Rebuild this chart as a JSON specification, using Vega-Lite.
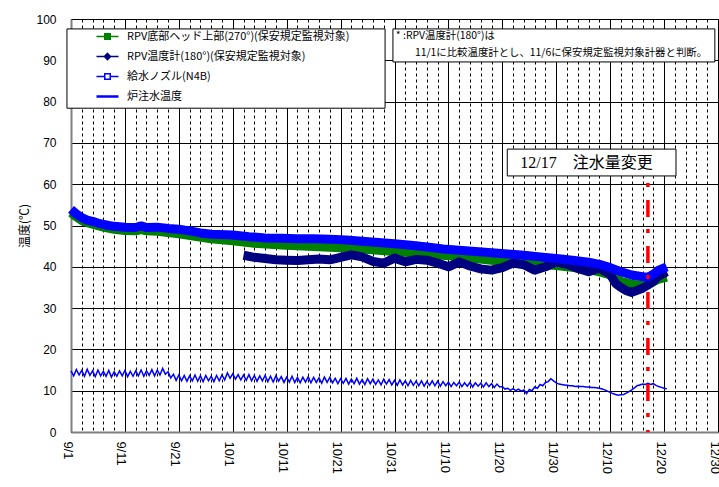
{
  "$schema": "https://vega.github.io/schema/vega-lite/v6.json",
  "autosize": {"type": "none"},
  "width": 647,
  "height": 413,
  "padding": {"left": 71, "top": 19, "right": 1, "bottom": 55},
  "background": "white",
  "config": {
    "view": {"stroke": "#666666", "strokeWidth": 1},
    "axis": {"labelFont": "Liberation Sans", "labelColor": "black", "titleFont": "Noto Sans CJK JP", "titleColor": "black"}
  },
  "datasets": {
    "green": [
      {"date": "2011-09-01T00:00", "temp": 53.1}, {"date": "2011-09-02T00:00", "temp": 52.1}, {"date": "2011-09-03T00:00", "temp": 51.2},
      {"date": "2011-09-04T00:00", "temp": 50.7}, {"date": "2011-09-05T00:00", "temp": 50.3}, {"date": "2011-09-07T00:00", "temp": 49.6},
      {"date": "2011-09-09T00:00", "temp": 49.1}, {"date": "2011-09-11T00:00", "temp": 48.8}, {"date": "2011-09-13T00:00", "temp": 48.7},
      {"date": "2011-09-14T00:00", "temp": 49.0}, {"date": "2011-09-15T00:00", "temp": 48.7}, {"date": "2011-09-17T00:00", "temp": 48.6},
      {"date": "2011-09-21T00:00", "temp": 48.0}, {"date": "2011-09-24T00:00", "temp": 47.4}, {"date": "2011-09-27T00:00", "temp": 46.8},
      {"date": "2011-10-01T00:00", "temp": 46.3}, {"date": "2011-10-05T00:00", "temp": 45.7}, {"date": "2011-10-10T00:00", "temp": 45.3},
      {"date": "2011-10-15T00:00", "temp": 45.0}, {"date": "2011-10-20T00:00", "temp": 44.7}, {"date": "2011-10-25T00:00", "temp": 44.3},
      {"date": "2011-10-31T00:00", "temp": 43.7}, {"date": "2011-11-05T00:00", "temp": 43.2}, {"date": "2011-11-10T00:00", "temp": 42.7},
      {"date": "2011-11-15T00:00", "temp": 42.0}, {"date": "2011-11-20T00:00", "temp": 41.3}, {"date": "2011-11-25T00:00", "temp": 40.8},
      {"date": "2011-11-30T00:00", "temp": 40.3}, {"date": "2011-12-05T00:00", "temp": 39.6}, {"date": "2011-12-08T00:00", "temp": 38.8},
      {"date": "2011-12-10T00:00", "temp": 38.0}, {"date": "2011-12-12T00:00", "temp": 36.5}, {"date": "2011-12-14T00:00", "temp": 35.8},
      {"date": "2011-12-16T00:00", "temp": 35.5}, {"date": "2011-12-17T00:00", "temp": 35.7}, {"date": "2011-12-18T00:00", "temp": 36.4},
      {"date": "2011-12-19T00:00", "temp": 37.0}, {"date": "2011-12-20T12:00", "temp": 37.5}
    ],
    "navy": [
      {"date": "2011-10-03T00:00", "temp": 42.8}, {"date": "2011-10-05T00:00", "temp": 42.3}, {"date": "2011-10-07T00:00", "temp": 42.0},
      {"date": "2011-10-09T00:00", "temp": 41.7}, {"date": "2011-10-11T00:00", "temp": 41.6}, {"date": "2011-10-13T00:00", "temp": 41.5},
      {"date": "2011-10-15T00:00", "temp": 41.7}, {"date": "2011-10-17T00:00", "temp": 41.9}, {"date": "2011-10-19T00:00", "temp": 41.7},
      {"date": "2011-10-21T00:00", "temp": 42.3}, {"date": "2011-10-23T00:00", "temp": 42.9}, {"date": "2011-10-25T00:00", "temp": 42.4},
      {"date": "2011-10-27T00:00", "temp": 41.3}, {"date": "2011-10-29T00:00", "temp": 40.9}, {"date": "2011-10-31T00:00", "temp": 42.1},
      {"date": "2011-11-02T00:00", "temp": 41.2}, {"date": "2011-11-04T00:00", "temp": 41.8}, {"date": "2011-11-06T00:00", "temp": 41.6},
      {"date": "2011-11-08T00:00", "temp": 40.9}, {"date": "2011-11-10T00:00", "temp": 40.0}, {"date": "2011-11-12T00:00", "temp": 41.2},
      {"date": "2011-11-14T00:00", "temp": 40.2}, {"date": "2011-11-16T00:00", "temp": 39.5}, {"date": "2011-11-18T00:00", "temp": 39.2},
      {"date": "2011-11-20T00:00", "temp": 39.8}, {"date": "2011-11-22T00:00", "temp": 40.9}, {"date": "2011-11-24T00:00", "temp": 40.5},
      {"date": "2011-11-26T00:00", "temp": 39.2}, {"date": "2011-11-28T00:00", "temp": 40.0}, {"date": "2011-11-30T00:00", "temp": 41.2},
      {"date": "2011-12-02T00:00", "temp": 40.6}, {"date": "2011-12-04T00:00", "temp": 39.6}, {"date": "2011-12-06T00:00", "temp": 38.8},
      {"date": "2011-12-08T00:00", "temp": 39.7}, {"date": "2011-12-10T00:00", "temp": 38.2}, {"date": "2011-12-11T00:00", "temp": 36.0},
      {"date": "2011-12-12T00:00", "temp": 35.0}, {"date": "2011-12-13T00:00", "temp": 34.2}, {"date": "2011-12-14T00:00", "temp": 33.8},
      {"date": "2011-12-15T00:00", "temp": 34.3}, {"date": "2011-12-16T00:00", "temp": 34.8}, {"date": "2011-12-17T00:00", "temp": 35.6},
      {"date": "2011-12-18T00:00", "temp": 36.5}, {"date": "2011-12-19T00:00", "temp": 37.8}, {"date": "2011-12-20T12:00", "temp": 38.8}
    ],
    "blue": [
      {"date": "2011-09-01T00:00", "temp": 53.9}, {"date": "2011-09-02T00:00", "temp": 52.8}, {"date": "2011-09-03T00:00", "temp": 51.9},
      {"date": "2011-09-04T00:00", "temp": 51.3}, {"date": "2011-09-05T00:00", "temp": 51.0}, {"date": "2011-09-06T00:00", "temp": 50.6},
      {"date": "2011-09-07T00:00", "temp": 50.3}, {"date": "2011-09-08T00:00", "temp": 50.0}, {"date": "2011-09-09T00:00", "temp": 49.8},
      {"date": "2011-09-11T00:00", "temp": 49.6}, {"date": "2011-09-13T00:00", "temp": 49.5}, {"date": "2011-09-14T00:00", "temp": 49.9},
      {"date": "2011-09-15T00:00", "temp": 49.5}, {"date": "2011-09-17T00:00", "temp": 49.6}, {"date": "2011-09-19T00:00", "temp": 49.3},
      {"date": "2011-09-21T00:00", "temp": 49.1}, {"date": "2011-09-23T00:00", "temp": 48.7}, {"date": "2011-09-25T00:00", "temp": 48.2},
      {"date": "2011-09-27T00:00", "temp": 47.9}, {"date": "2011-10-01T00:00", "temp": 47.7}, {"date": "2011-10-04T00:00", "temp": 47.3},
      {"date": "2011-10-07T00:00", "temp": 47.0}, {"date": "2011-10-10T00:00", "temp": 46.9}, {"date": "2011-10-13T00:00", "temp": 46.8},
      {"date": "2011-10-16T00:00", "temp": 46.8}, {"date": "2011-10-19T00:00", "temp": 46.7}, {"date": "2011-10-22T00:00", "temp": 46.5},
      {"date": "2011-10-25T00:00", "temp": 46.2}, {"date": "2011-10-28T00:00", "temp": 45.9}, {"date": "2011-10-31T00:00", "temp": 45.6},
      {"date": "2011-11-03T00:00", "temp": 45.2}, {"date": "2011-11-06T00:00", "temp": 44.8}, {"date": "2011-11-09T00:00", "temp": 44.3},
      {"date": "2011-11-12T00:00", "temp": 44.0}, {"date": "2011-11-15T00:00", "temp": 43.7}, {"date": "2011-11-18T00:00", "temp": 43.4},
      {"date": "2011-11-21T00:00", "temp": 43.1}, {"date": "2011-11-24T00:00", "temp": 42.8}, {"date": "2011-11-27T00:00", "temp": 42.4},
      {"date": "2011-11-30T00:00", "temp": 42.0}, {"date": "2011-12-03T00:00", "temp": 41.6}, {"date": "2011-12-06T00:00", "temp": 41.1},
      {"date": "2011-12-08T00:00", "temp": 40.6}, {"date": "2011-12-10T00:00", "temp": 39.8}, {"date": "2011-12-12T00:00", "temp": 38.8},
      {"date": "2011-12-14T00:00", "temp": 38.0}, {"date": "2011-12-16T00:00", "temp": 37.6}, {"date": "2011-12-17T00:00", "temp": 37.5},
      {"date": "2011-12-18T00:00", "temp": 38.2}, {"date": "2011-12-19T00:00", "temp": 39.2}, {"date": "2011-12-20T00:00", "temp": 39.7},
      {"date": "2011-12-20T12:00", "temp": 40.0}
    ],
    "water": [
      {"date": "2011-09-01T00:00", "temp": 14.8}, {"date": "2011-09-01T12:00", "temp": 13.6}, {"date": "2011-09-02T00:00", "temp": 15.1}, {"date": "2011-09-02T12:00", "temp": 13.8},
      {"date": "2011-09-03T00:00", "temp": 14.9}, {"date": "2011-09-03T12:00", "temp": 13.5}, {"date": "2011-09-04T00:00", "temp": 15.2}, {"date": "2011-09-04T12:00", "temp": 13.7},
      {"date": "2011-09-05T00:00", "temp": 14.8}, {"date": "2011-09-05T12:00", "temp": 13.4}, {"date": "2011-09-06T00:00", "temp": 15.0}, {"date": "2011-09-06T12:00", "temp": 13.6},
      {"date": "2011-09-07T00:00", "temp": 14.7}, {"date": "2011-09-07T12:00", "temp": 13.5}, {"date": "2011-09-08T00:00", "temp": 14.9}, {"date": "2011-09-08T12:00", "temp": 13.3},
      {"date": "2011-09-09T00:00", "temp": 14.6}, {"date": "2011-09-09T12:00", "temp": 13.5}, {"date": "2011-09-10T00:00", "temp": 14.8}, {"date": "2011-09-10T12:00", "temp": 13.6},
      {"date": "2011-09-11T00:00", "temp": 14.9}, {"date": "2011-09-11T12:00", "temp": 13.4}, {"date": "2011-09-12T00:00", "temp": 14.7}, {"date": "2011-09-12T12:00", "temp": 13.5},
      {"date": "2011-09-13T00:00", "temp": 14.8}, {"date": "2011-09-13T12:00", "temp": 13.6}, {"date": "2011-09-14T00:00", "temp": 15.0}, {"date": "2011-09-14T12:00", "temp": 13.5},
      {"date": "2011-09-15T00:00", "temp": 14.8}, {"date": "2011-09-15T12:00", "temp": 13.7}, {"date": "2011-09-16T00:00", "temp": 15.1}, {"date": "2011-09-16T12:00", "temp": 13.6},
      {"date": "2011-09-17T00:00", "temp": 15.0}, {"date": "2011-09-17T12:00", "temp": 13.8}, {"date": "2011-09-18T00:00", "temp": 15.4}, {"date": "2011-09-18T12:00", "temp": 14.0},
      {"date": "2011-09-19T00:00", "temp": 14.6}, {"date": "2011-09-19T12:00", "temp": 13.1}, {"date": "2011-09-20T00:00", "temp": 14.0}, {"date": "2011-09-20T12:00", "temp": 12.5},
      {"date": "2011-09-21T00:00", "temp": 13.8}, {"date": "2011-09-21T12:00", "temp": 12.4}, {"date": "2011-09-22T00:00", "temp": 13.7}, {"date": "2011-09-22T12:00", "temp": 12.3},
      {"date": "2011-09-23T00:00", "temp": 13.6}, {"date": "2011-09-23T12:00", "temp": 12.4}, {"date": "2011-09-24T00:00", "temp": 13.8}, {"date": "2011-09-24T12:00", "temp": 12.3},
      {"date": "2011-09-25T00:00", "temp": 13.6}, {"date": "2011-09-25T12:00", "temp": 12.2}, {"date": "2011-09-26T00:00", "temp": 13.7}, {"date": "2011-09-26T12:00", "temp": 12.4},
      {"date": "2011-09-27T00:00", "temp": 13.5}, {"date": "2011-09-27T12:00", "temp": 12.2}, {"date": "2011-09-28T00:00", "temp": 13.7}, {"date": "2011-09-28T12:00", "temp": 12.4},
      {"date": "2011-09-29T00:00", "temp": 13.8}, {"date": "2011-09-29T12:00", "temp": 12.6}, {"date": "2011-09-30T00:00", "temp": 14.3}, {"date": "2011-09-30T12:00", "temp": 13.0},
      {"date": "2011-10-01T00:00", "temp": 14.1}, {"date": "2011-10-01T12:00", "temp": 12.8}, {"date": "2011-10-02T00:00", "temp": 13.9}, {"date": "2011-10-02T12:00", "temp": 12.6},
      {"date": "2011-10-03T00:00", "temp": 13.8}, {"date": "2011-10-03T12:00", "temp": 12.5}, {"date": "2011-10-04T00:00", "temp": 13.9}, {"date": "2011-10-04T12:00", "temp": 12.4},
      {"date": "2011-10-05T00:00", "temp": 13.7}, {"date": "2011-10-05T12:00", "temp": 12.3}, {"date": "2011-10-06T00:00", "temp": 13.6}, {"date": "2011-10-06T12:00", "temp": 12.4},
      {"date": "2011-10-07T00:00", "temp": 13.7}, {"date": "2011-10-07T12:00", "temp": 12.2}, {"date": "2011-10-08T00:00", "temp": 13.5}, {"date": "2011-10-08T12:00", "temp": 12.1},
      {"date": "2011-10-09T00:00", "temp": 13.6}, {"date": "2011-10-09T12:00", "temp": 12.3}, {"date": "2011-10-10T00:00", "temp": 13.4}, {"date": "2011-10-10T12:00", "temp": 12.0},
      {"date": "2011-10-11T00:00", "temp": 13.3}, {"date": "2011-10-11T12:00", "temp": 12.1}, {"date": "2011-10-12T00:00", "temp": 13.5}, {"date": "2011-10-12T12:00", "temp": 12.0},
      {"date": "2011-10-13T00:00", "temp": 13.2}, {"date": "2011-10-13T12:00", "temp": 11.9}, {"date": "2011-10-14T00:00", "temp": 13.3}, {"date": "2011-10-14T12:00", "temp": 12.1},
      {"date": "2011-10-15T00:00", "temp": 13.4}, {"date": "2011-10-15T12:00", "temp": 11.9}, {"date": "2011-10-16T00:00", "temp": 13.2}, {"date": "2011-10-16T12:00", "temp": 12.0},
      {"date": "2011-10-17T00:00", "temp": 13.1}, {"date": "2011-10-17T12:00", "temp": 11.8}, {"date": "2011-10-18T00:00", "temp": 13.3}, {"date": "2011-10-18T12:00", "temp": 12.0},
      {"date": "2011-10-19T00:00", "temp": 13.2}, {"date": "2011-10-19T12:00", "temp": 11.9}, {"date": "2011-10-20T00:00", "temp": 13.0}, {"date": "2011-10-20T12:00", "temp": 11.7},
      {"date": "2011-10-21T00:00", "temp": 12.9}, {"date": "2011-10-21T12:00", "temp": 11.8}, {"date": "2011-10-22T00:00", "temp": 13.0}, {"date": "2011-10-22T12:00", "temp": 11.6},
      {"date": "2011-10-23T00:00", "temp": 12.8}, {"date": "2011-10-23T12:00", "temp": 11.7}, {"date": "2011-10-24T00:00", "temp": 13.0}, {"date": "2011-10-24T12:00", "temp": 11.6},
      {"date": "2011-10-25T00:00", "temp": 12.7}, {"date": "2011-10-25T12:00", "temp": 11.5}, {"date": "2011-10-26T00:00", "temp": 12.9}, {"date": "2011-10-26T12:00", "temp": 11.7},
      {"date": "2011-10-27T00:00", "temp": 12.8}, {"date": "2011-10-27T12:00", "temp": 11.5}, {"date": "2011-10-28T00:00", "temp": 12.6}, {"date": "2011-10-28T12:00", "temp": 11.4},
      {"date": "2011-10-29T00:00", "temp": 12.8}, {"date": "2011-10-29T12:00", "temp": 11.6}, {"date": "2011-10-30T00:00", "temp": 12.7}, {"date": "2011-10-30T12:00", "temp": 11.4},
      {"date": "2011-10-31T00:00", "temp": 12.5}, {"date": "2011-10-31T12:00", "temp": 11.3}, {"date": "2011-11-01T00:00", "temp": 12.6}, {"date": "2011-11-01T12:00", "temp": 11.4},
      {"date": "2011-11-02T00:00", "temp": 12.4}, {"date": "2011-11-02T12:00", "temp": 11.2}, {"date": "2011-11-03T00:00", "temp": 12.5}, {"date": "2011-11-03T12:00", "temp": 11.3},
      {"date": "2011-11-04T00:00", "temp": 12.3}, {"date": "2011-11-04T12:00", "temp": 11.2}, {"date": "2011-11-05T00:00", "temp": 12.4}, {"date": "2011-11-05T12:00", "temp": 11.1},
      {"date": "2011-11-06T00:00", "temp": 12.2}, {"date": "2011-11-06T12:00", "temp": 11.3}, {"date": "2011-11-07T00:00", "temp": 12.4}, {"date": "2011-11-07T12:00", "temp": 11.2},
      {"date": "2011-11-08T00:00", "temp": 12.3}, {"date": "2011-11-08T12:00", "temp": 11.1}, {"date": "2011-11-09T00:00", "temp": 12.2}, {"date": "2011-11-09T12:00", "temp": 11.2},
      {"date": "2011-11-10T00:00", "temp": 12.1}, {"date": "2011-11-10T12:00", "temp": 11.0}, {"date": "2011-11-11T00:00", "temp": 12.0}, {"date": "2011-11-11T12:00", "temp": 11.2},
      {"date": "2011-11-12T00:00", "temp": 12.1}, {"date": "2011-11-12T12:00", "temp": 11.0}, {"date": "2011-11-13T00:00", "temp": 11.9}, {"date": "2011-11-13T12:00", "temp": 11.1},
      {"date": "2011-11-14T00:00", "temp": 12.0}, {"date": "2011-11-14T12:00", "temp": 10.9}, {"date": "2011-11-15T00:00", "temp": 11.9}, {"date": "2011-11-15T12:00", "temp": 11.1},
      {"date": "2011-11-16T00:00", "temp": 11.8}, {"date": "2011-11-16T12:00", "temp": 10.9}, {"date": "2011-11-17T00:00", "temp": 11.9}, {"date": "2011-11-17T12:00", "temp": 11.0},
      {"date": "2011-11-18T00:00", "temp": 11.7}, {"date": "2011-11-18T12:00", "temp": 10.8}, {"date": "2011-11-19T00:00", "temp": 11.6}, {"date": "2011-11-19T12:00", "temp": 10.9},
      {"date": "2011-11-20T00:00", "temp": 11.0}, {"date": "2011-11-20T12:00", "temp": 10.4}, {"date": "2011-11-21T00:00", "temp": 10.6}, {"date": "2011-11-21T12:00", "temp": 10.1},
      {"date": "2011-11-22T00:00", "temp": 10.5}, {"date": "2011-11-22T12:00", "temp": 10.0}, {"date": "2011-11-23T00:00", "temp": 10.4}, {"date": "2011-11-23T12:00", "temp": 9.9},
      {"date": "2011-11-24T00:00", "temp": 10.2}, {"date": "2011-11-24T12:00", "temp": 9.3}, {"date": "2011-11-25T00:00", "temp": 10.3}, {"date": "2011-11-25T12:00", "temp": 10.0},
      {"date": "2011-11-26T00:00", "temp": 10.9}, {"date": "2011-11-26T12:00", "temp": 10.6}, {"date": "2011-11-27T00:00", "temp": 11.5}, {"date": "2011-11-27T12:00", "temp": 11.2},
      {"date": "2011-11-28T00:00", "temp": 12.0}, {"date": "2011-11-28T12:00", "temp": 12.2}, {"date": "2011-11-29T00:00", "temp": 12.9}, {"date": "2011-11-29T12:00", "temp": 12.4},
      {"date": "2011-11-30T00:00", "temp": 11.9}, {"date": "2011-11-30T12:00", "temp": 11.6}, {"date": "2011-12-01T00:00", "temp": 11.5}, {"date": "2011-12-01T12:00", "temp": 11.4},
      {"date": "2011-12-02T00:00", "temp": 11.3}, {"date": "2011-12-02T12:00", "temp": 11.2}, {"date": "2011-12-03T00:00", "temp": 11.2}, {"date": "2011-12-03T12:00", "temp": 11.0},
      {"date": "2011-12-04T00:00", "temp": 11.1}, {"date": "2011-12-04T12:00", "temp": 11.0}, {"date": "2011-12-05T00:00", "temp": 11.0}, {"date": "2011-12-05T12:00", "temp": 10.9},
      {"date": "2011-12-06T00:00", "temp": 10.9}, {"date": "2011-12-06T12:00", "temp": 10.8}, {"date": "2011-12-07T00:00", "temp": 10.8}, {"date": "2011-12-07T12:00", "temp": 10.7},
      {"date": "2011-12-08T00:00", "temp": 10.6}, {"date": "2011-12-08T12:00", "temp": 10.4}, {"date": "2011-12-09T00:00", "temp": 10.2}, {"date": "2011-12-09T12:00", "temp": 9.9},
      {"date": "2011-12-10T00:00", "temp": 9.6}, {"date": "2011-12-10T12:00", "temp": 9.3}, {"date": "2011-12-11T00:00", "temp": 9.1}, {"date": "2011-12-11T12:00", "temp": 8.9},
      {"date": "2011-12-12T00:00", "temp": 9.0}, {"date": "2011-12-12T12:00", "temp": 9.1}, {"date": "2011-12-13T00:00", "temp": 9.4}, {"date": "2011-12-13T12:00", "temp": 9.8},
      {"date": "2011-12-14T00:00", "temp": 10.2}, {"date": "2011-12-14T12:00", "temp": 10.7}, {"date": "2011-12-15T00:00", "temp": 11.2}, {"date": "2011-12-15T12:00", "temp": 11.4},
      {"date": "2011-12-16T00:00", "temp": 11.6}, {"date": "2011-12-16T12:00", "temp": 11.5}, {"date": "2011-12-17T00:00", "temp": 11.8}, {"date": "2011-12-17T12:00", "temp": 11.5},
      {"date": "2011-12-18T00:00", "temp": 11.7}, {"date": "2011-12-18T12:00", "temp": 11.3}, {"date": "2011-12-19T00:00", "temp": 11.0}, {"date": "2011-12-19T12:00", "temp": 10.8},
      {"date": "2011-12-20T00:00", "temp": 10.6}, {"date": "2011-12-20T12:00", "temp": 10.5}
    ],
    "boxes": [
      {"name": "legend", "date": "2011-08-31T06:00", "date2": "2011-10-29T06:00", "temp": 97.6, "temp2": 78.4},
      {"name": "note", "date": "2011-10-30T17:00", "date2": "2011-12-29T10:00", "temp": 97.6, "temp2": 89.6},
      {"name": "change", "date": "2011-11-20T22:00", "date2": "2011-12-22T05:00", "temp": 68.5, "temp2": 62.0}
    ],
    "noteText": [
      {"label": "* :RPV温度計(180°)は", "date": "2011-10-31T06:00", "temp": 95.9},
      {"label": "11/1に比較温度計とし、11/6に保安規定監視対象計器と判断。", "date": "2011-11-03T19:00", "temp": 91.8}
    ],
    "changeText": [
      {"label": "12/17　注水量変更", "date": "2011-11-23T08:00", "temp": 65.1}
    ],
    "changeRule": [
      {"date": "2011-12-17T00:00", "temp": 60.3, "temp2": 0}
    ]
  },
  "encoding": {
    "x": {
      "field": "date", "type": "temporal",
      "scale": {"domain": [{"year": 2011, "month": 9, "date": 1}, {"year": 2011, "month": 12, "date": 30}]},
      "axis": {
        "title": null,
        "values": [
          {"year": 2011, "month": 9, "date": 1}, {"year": 2011, "month": 9, "date": 3}, {"year": 2011, "month": 9, "date": 5}, {"year": 2011, "month": 9, "date": 7},
          {"year": 2011, "month": 9, "date": 9}, {"year": 2011, "month": 9, "date": 11}, {"year": 2011, "month": 9, "date": 13}, {"year": 2011, "month": 9, "date": 15},
          {"year": 2011, "month": 9, "date": 17}, {"year": 2011, "month": 9, "date": 19}, {"year": 2011, "month": 9, "date": 21}, {"year": 2011, "month": 9, "date": 23},
          {"year": 2011, "month": 9, "date": 25}, {"year": 2011, "month": 9, "date": 27}, {"year": 2011, "month": 9, "date": 29},
          {"year": 2011, "month": 10, "date": 1}, {"year": 2011, "month": 10, "date": 3}, {"year": 2011, "month": 10, "date": 5}, {"year": 2011, "month": 10, "date": 7},
          {"year": 2011, "month": 10, "date": 9}, {"year": 2011, "month": 10, "date": 11}, {"year": 2011, "month": 10, "date": 13}, {"year": 2011, "month": 10, "date": 15},
          {"year": 2011, "month": 10, "date": 17}, {"year": 2011, "month": 10, "date": 19}, {"year": 2011, "month": 10, "date": 21}, {"year": 2011, "month": 10, "date": 23},
          {"year": 2011, "month": 10, "date": 25}, {"year": 2011, "month": 10, "date": 27}, {"year": 2011, "month": 10, "date": 29}, {"year": 2011, "month": 10, "date": 31},
          {"year": 2011, "month": 11, "date": 2}, {"year": 2011, "month": 11, "date": 4}, {"year": 2011, "month": 11, "date": 6}, {"year": 2011, "month": 11, "date": 8},
          {"year": 2011, "month": 11, "date": 10}, {"year": 2011, "month": 11, "date": 12}, {"year": 2011, "month": 11, "date": 14}, {"year": 2011, "month": 11, "date": 16},
          {"year": 2011, "month": 11, "date": 18}, {"year": 2011, "month": 11, "date": 20}, {"year": 2011, "month": 11, "date": 22}, {"year": 2011, "month": 11, "date": 24},
          {"year": 2011, "month": 11, "date": 26}, {"year": 2011, "month": 11, "date": 28}, {"year": 2011, "month": 11, "date": 30},
          {"year": 2011, "month": 12, "date": 2}, {"year": 2011, "month": 12, "date": 4}, {"year": 2011, "month": 12, "date": 6}, {"year": 2011, "month": 12, "date": 8},
          {"year": 2011, "month": 12, "date": 10}, {"year": 2011, "month": 12, "date": 12}, {"year": 2011, "month": 12, "date": 14}, {"year": 2011, "month": 12, "date": 16},
          {"year": 2011, "month": 12, "date": 18}, {"year": 2011, "month": 12, "date": 20}, {"year": 2011, "month": 12, "date": 22}, {"year": 2011, "month": 12, "date": 24},
          {"year": 2011, "month": 12, "date": 26}, {"year": 2011, "month": 12, "date": 28}, {"year": 2011, "month": 12, "date": 30}
        ],
        "labelExpr": "round((datum.value - datetime(2011, 8, 1)) / 864e5) % 10 == 0 ? timeFormat(datum.value, '%-m/%-d') : ''",
        "labelAngle": 90, "labelAlign": "left", "labelBaseline": "middle", "labelOffset": -4,
        "labelFontSize": 13, "labelPadding": 9, "labelOverlap": false, "labelFlush": false,
        "ticks": false,
        "domain": true, "domainColor": "#808080", "domainWidth": 2,
        "grid": true, "gridColor": "#000000", "gridWidth": 1,
        "gridDash": {"condition": {"test": "round((datum.value - datetime(2011, 8, 1)) / 864e5) % 10 == 0", "value": []}, "value": [3, 3]}
      }
    },
    "y": {
      "field": "temp", "type": "quantitative",
      "scale": {"domain": [0, 100], "nice": false, "zero": true},
      "axis": {
        "title": "温度(℃)", "titleFontSize": 12, "titleFontWeight": "normal", "titlePadding": 4,
        "values": [0, 10, 20, 30, 40, 50, 60, 70, 80, 90, 100],
        "labelFontSize": 12, "labelPadding": 15, "ticks": false,
        "domain": true, "domainColor": "#808080", "domainWidth": 2,
        "grid": true, "gridColor": "#000000", "gridWidth": 1
      }
    }
  },
  "layer": [
    {
      "data": {"name": "green"},
      "mark": {"type": "line", "strokeWidth": 9, "strokeJoin": "round"},
      "encoding": {
        "color": {
          "datum": "RPV底部ヘッド上部(270°)(保安規定監視対象)",
          "scale": {
            "domain": ["RPV底部ヘッド上部(270°)(保安規定監視対象)", "RPV温度計(180°)(保安規定監視対象)", "給水ノズル(N4B)", "炉注水温度"],
            "range": ["#008000", "#000080", "#0000ff", "#0000ff"]
          },
          "legend": {
            "orient": "none", "legendX": 31, "legendY": 12, "title": null,
            "padding": 0, "rowPadding": 7, "labelOffset": 14,
            "labelFont": "Noto Sans CJK JP", "labelFontSize": 11, "labelColor": "black", "labelLimit": 400,
            "symbolSize": 484, "symbolStrokeWidth": 1.5,
            "encode": {
              "symbols": {
                "update": {
                  "shape": {"signal": "['M-1,0H1M-0.25,-0.25H0.25V0.25H-0.25Z','M-1,0H1M0,-0.28L0.28,0L0,0.28L-0.28,0Z','M-1,0H-0.25M0.25,0H1M-0.25,-0.25H0.25V0.25H-0.25Z','M-1,0H1'][datum.index]"},
                  "stroke": {"signal": "['#008000','#000080','#0000ff','#0000ff'][datum.index]"},
                  "fill": {"signal": "['#008000','#000080','#ffffff','transparent'][datum.index]"},
                  "strokeWidth": {"signal": "datum.index == 3 ? 2.5 : 1.5"},
                  "opacity": {"value": 1}
                }
              }
            }
          }
        }
      }
    },
    {
      "data": {"name": "navy"},
      "mark": {"type": "line", "strokeWidth": 9, "strokeJoin": "round"},
      "encoding": {"color": {"datum": "RPV温度計(180°)(保安規定監視対象)"}}
    },
    {
      "data": {"name": "blue"},
      "mark": {"type": "line", "strokeWidth": 9, "strokeJoin": "round"},
      "encoding": {"color": {"datum": "給水ノズル(N4B)"}}
    },
    {
      "data": {"name": "water"},
      "mark": {"type": "line", "strokeWidth": 1.5},
      "encoding": {"color": {"datum": "炉注水温度"}}
    },
    {
      "data": {"name": "changeRule"},
      "mark": {"type": "rule", "color": "#ff0000", "strokeWidth": 3.5, "strokeDash": [4, 13, 17, 12]},
      "encoding": {
        "y2": {"field": "temp2"}
      }
    },
    {
      "data": {"name": "boxes"},
      "mark": {"type": "rect", "fill": "white", "stroke": "black", "strokeWidth": 1},
      "encoding": {
        "x2": {"field": "date2"},
        "y2": {"field": "temp2"}
      }
    },
    {
      "data": {"name": "noteText"},
      "mark": {"type": "text", "font": "Noto Sans CJK JP", "fontSize": 10.4, "align": "left", "baseline": "middle", "color": "black"},
      "encoding": {"text": {"field": "label"}}
    },
    {
      "data": {"name": "changeText"},
      "mark": {"type": "text", "font": "Liberation Serif, Noto Sans CJK JP", "fontSize": 16, "align": "left", "baseline": "middle", "color": "black"},
      "encoding": {"text": {"field": "label"}}
    }
  ]
}
